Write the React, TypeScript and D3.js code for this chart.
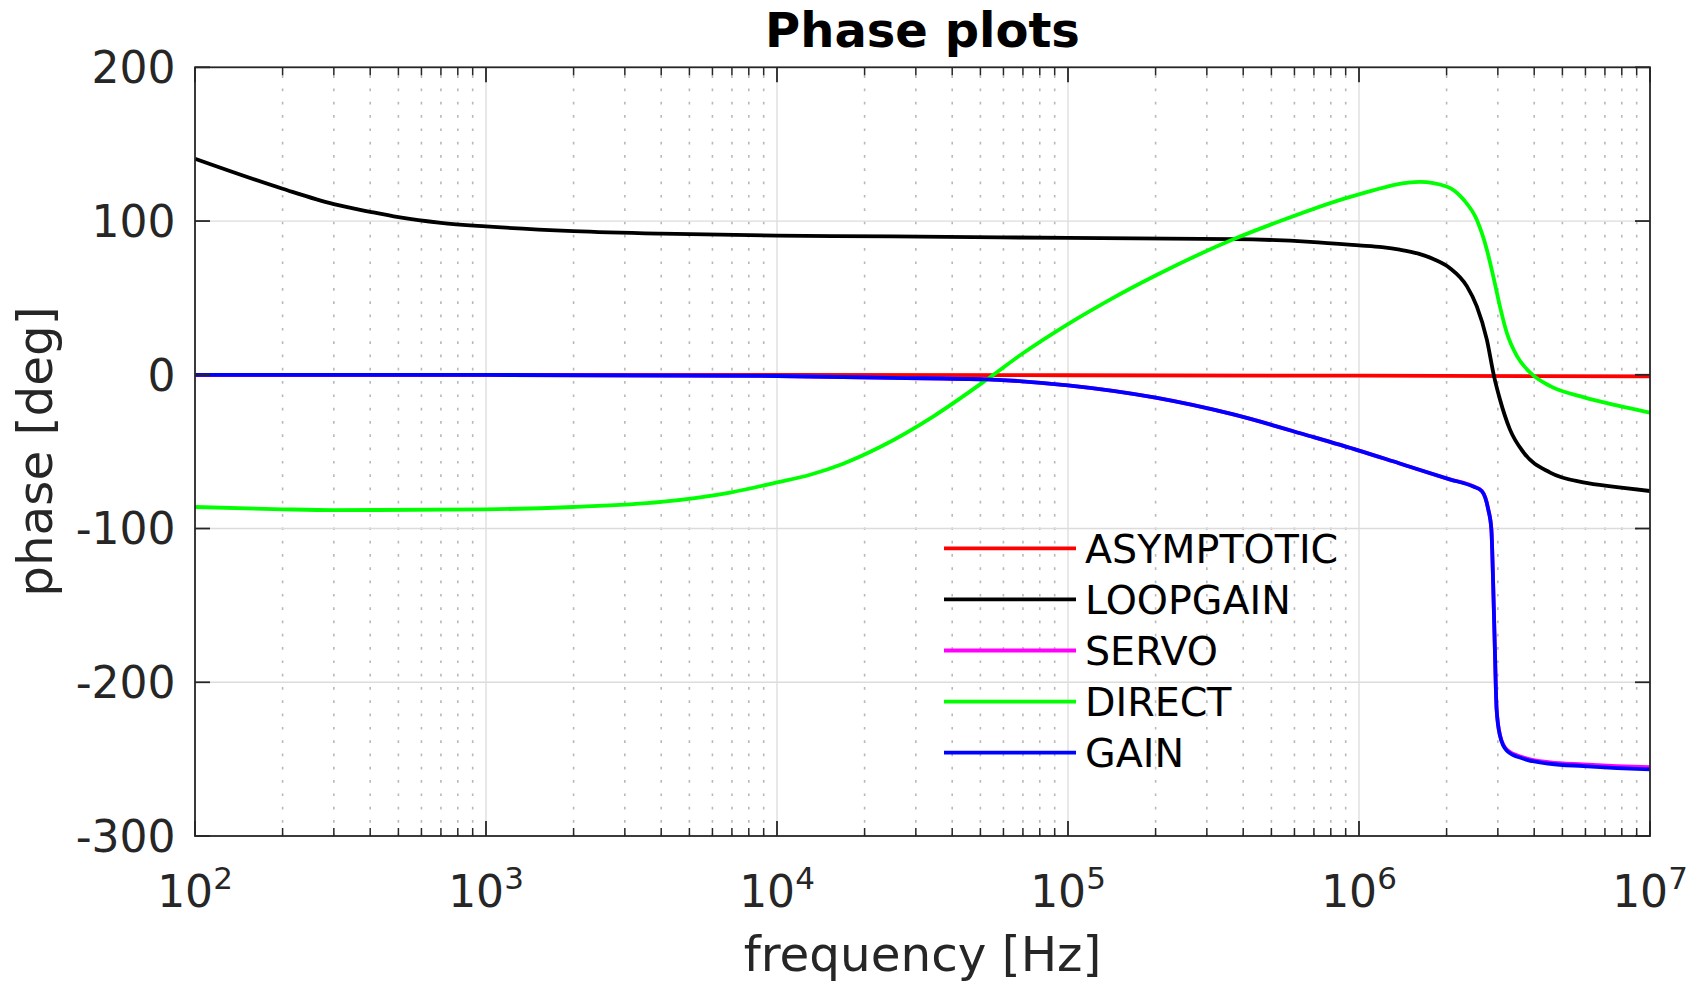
import React from "react";
import * as d3 from "d3";

// ---- data ----
const asymFreq = [1e2, 1e3, 1e4, 1e5, 1e6, 1e7];
const asymPhase = [0, -0.02, -0.1, -0.3, -0.6, -1.0];

const loopFreq = [1e2, 2e2, 3e2, 4e2, 5e2, 7e2, 1e3, 2e3, 4e3, 1e4, 2.5e4, 1e5, 3.7e5, 6.8e5, 1e6, 1.2e6, 1.38e6, 1.6e6, 1.8e6, 2.05e6, 2.35e6, 2.54e6, 2.75e6, 2.91e6, 3.05e6, 3.3e6, 3.68e6, 4.54e6, 5.9e6, 7.7e6, 1e7];
const loopPhase = [140.5, 121, 111, 106, 102.5, 98.8, 96.5, 93.5, 91.8, 90.5, 90, 89, 88.3, 86.5, 84.2, 83, 81.4, 78.8, 75.3, 69.5, 57.5, 44.5, 22.9, -0.9, -16, -35.5, -50.6, -63.6, -70, -73, -75.6];

const directFreq = [1e2, 2e2, 3e2, 1e3, 2e3, 4e3, 6.9e3, 1e4, 1.3e4, 1.68e4, 2.26e4, 3.45e4, 5.27e4, 7e4, 1e5, 1.4e5, 2e5, 3.7e5, 5.06e5, 1e6, 1.62e6, 2e6, 2.29e6, 2.54e6, 2.75e6, 2.91e6, 3.05e6, 3.22e6, 3.49e6, 3.88e6, 4.54e6, 5.9e6, 7.7e6, 1e7];
const directPhase = [-86, -87.5, -88, -87.5, -86, -82.7, -76.6, -70, -65, -58, -47, -27, -3, 14, 33, 49.1, 64.6, 88.1, 98.2, 117.4, 125.5, 122.5, 113.8, 100.8, 81.4, 61.9, 44.5, 27.3, 12.1, 1.3, -7.4, -14.5, -19.9, -24.7];

const gainFreq = [1e2, 1e3, 1e4, 2.5e4, 5.27e4, 1e5, 2e5, 3.7e5, 6.76e5, 1e6, 1.38e6, 2.05e6, 2.47e6, 2.64e6, 2.78e6, 2.85e6, 2.89e6, 2.93e6, 2.97e6, 3.05e6, 3.22e6, 3.68e6, 4.54e6, 5.9e6, 7.7e6, 1e7];
const gainPhase = [0, -0.1, -0.8, -2, -3, -6.9, -14.9, -25.8, -39.8, -49.3, -57.7, -68, -72.7, -75.6, -87.5, -100.5, -135, -178.4, -217.3, -234.6, -244.4, -249.8, -253, -254.5, -255.8, -256.7];

const servoFreq = gainFreq;
const servoPhase = [0, -0.1, -0.8, -2, -3, -6.9, -14.9, -25.8, -39.8, -49.3, -57.7, -68, -72.5, -75.4, -87.3, -100.3, -134.8, -178.2, -217, -234.2, -243.8, -248.9, -252.1, -253.4, -254.5, -255.2];

const seriesNames = ["ASYMPTOTIC", "LOOPGAIN", "SERVO", "DIRECT", "GAIN"];
const seriesColors = ["#ff0000", "#000000", "#ff00ff", "#00ff00", "#0000ff"];
const seriesFreqs = [asymFreq, loopFreq, servoFreq, directFreq, gainFreq];
const seriesPhases = [asymPhase, loopPhase, servoPhase, directPhase, gainPhase];

const yTicks = [-300, -200, -100, 0, 100, 200];
const xDecades = [2, 3, 4, 5, 6, 7];

const titleText = "Phase plots";
const xLabelText = "frequency [Hz]";
const yLabelText = "phase [deg]";

// ---- layout ----
const W = 1694;
const H = 994;
const L = 195, R = 1650, T = 67.3, B = 836;
const FONT = "'DejaVu Sans', sans-serif";
const AX = "#262626";
const LW = 3.8;

export default function App() {
  const x = d3.scaleLog().domain([1e2, 1e7]).range([L, R]);
  const y = d3.scaleLinear().domain([-300, 200]).range([B, T]);

  const line = d3
    .line<[number, number]>()
    .x((d) => x(d[0]))
    .y((d) => y(d[1]))
    .curve(d3.curveMonotoneX);

  const minorX: number[] = [];
  for (let e = 2; e < 7; e++) {
    for (let m = 2; m <= 9; m++) minorX.push(m * Math.pow(10, e));
  }
  const majorX = xDecades.map((e) => Math.pow(10, e));

  const legendX0 = 944, legendX1 = 1076, legendY0 = 548.3, legendDY = 51.1;

  return (
    <svg
      width={W}
      height={H}
      style={{ position: "absolute", left: 0, top: 0, background: "#fff" }}
      fontFamily={FONT}
    >
      <rect x={0} y={0} width={W} height={H} fill="#fff" />
      <defs>
        <clipPath id="plotclip">
          <rect x={L} y={T} width={R - L} height={B - T} />
        </clipPath>
      </defs>

      {/* minor grid (x only) */}
      {minorX.map((f, i) => (
        <line
          key={"mg" + i}
          x1={x(f)}
          x2={x(f)}
          y1={B}
          y2={T}
          stroke="#b8b8b8"
          strokeWidth={1.6}
          strokeDasharray="2.7 10.6"
        />
      ))}
      {/* major grid */}
      {majorX.slice(1, -1).map((f, i) => (
        <line key={"gx" + i} x1={x(f)} x2={x(f)} y1={T} y2={B} stroke="#dcdcdc" strokeWidth={1.3} />
      ))}
      {yTicks.slice(1, -1).map((v, i) => (
        <line key={"gy" + i} x1={L} x2={R} y1={y(v)} y2={y(v)} stroke="#dcdcdc" strokeWidth={1.3} />
      ))}

      {/* data lines */}
      <g clipPath="url(#plotclip)">
        {seriesNames.map((name, si) => {
          const pts: [number, number][] = seriesFreqs[si].map((f, k) => [f, seriesPhases[si][k]]);
          return (
            <path
              key={name}
              d={line(pts) || ""}
              fill="none"
              stroke={seriesColors[si]}
              strokeWidth={LW}
              strokeLinejoin="round"
            />
          );
        })}
      </g>

      {/* axes box */}
      <rect x={L} y={T} width={R - L} height={B - T} fill="none" stroke={AX} strokeWidth={1.8} />

      {/* x ticks */}
      {majorX.map((f, i) => (
        <g key={"xt" + i}>
          <line x1={x(f)} x2={x(f)} y1={B} y2={B - 15} stroke={AX} strokeWidth={1.8} />
          <line x1={x(f)} x2={x(f)} y1={T} y2={T + 15} stroke={AX} strokeWidth={1.8} />
        </g>
      ))}
      {minorX.map((f, i) => (
        <g key={"xm" + i}>
          <line x1={x(f)} x2={x(f)} y1={B} y2={B - 8} stroke={AX} strokeWidth={1.5} />
          <line x1={x(f)} x2={x(f)} y1={T} y2={T + 8} stroke={AX} strokeWidth={1.5} />
        </g>
      ))}
      {/* y ticks */}
      {yTicks.map((v, i) => (
        <g key={"yt" + i}>
          <line x1={L} x2={L + 15} y1={y(v)} y2={y(v)} stroke={AX} strokeWidth={1.8} />
          <line x1={R} x2={R - 15} y1={y(v)} y2={y(v)} stroke={AX} strokeWidth={1.8} />
        </g>
      ))}

      {/* y tick labels */}
      {yTicks.map((v, i) => (
        <text
          key={"yl" + i}
          x={175.5}
          y={y(v)}
          dy="0.36em"
          textAnchor="end"
          fontSize={44}
          fill={AX}
        >
          {String(v)}
        </text>
      ))}

      {/* x tick labels */}
      {xDecades.map((e, i) => (
        <text
          key={"xl" + i}
          x={x(Math.pow(10, e))}
          y={906.7}
          textAnchor="middle"
          fontSize={44}
          fill={AX}
        >
          10
          <tspan fontSize={31} dy={-18}>
            {String(e)}
          </tspan>
        </text>
      ))}

      {/* title */}
      <text x={(L + R) / 2} y={46.7} textAnchor="middle" fontSize={48} fontWeight="bold" fill="#000">
        {titleText}
      </text>

      {/* x label */}
      <text x={(L + R) / 2} y={971} textAnchor="middle" fontSize={48.4} fill={AX}>
        {xLabelText}
      </text>

      {/* y label */}
      <text
        transform={`translate(51.7, ${(T + B) / 2}) rotate(-90)`}
        textAnchor="middle"
        fontSize={48.4}
        fill={AX}
      >
        {yLabelText}
      </text>

      {/* legend */}
      {seriesNames.map((name, i) => {
        const ly = legendY0 + i * legendDY;
        return (
          <g key={"lg" + name}>
            <line x1={legendX0} x2={legendX1} y1={ly} y2={ly} stroke={seriesColors[i]} strokeWidth={LW} />
            <text x={1085} y={ly} dy="0.36em" fontSize={39.6} fill="#000">
              {name}
            </text>
          </g>
        );
      })}
    </svg>
  );
}
